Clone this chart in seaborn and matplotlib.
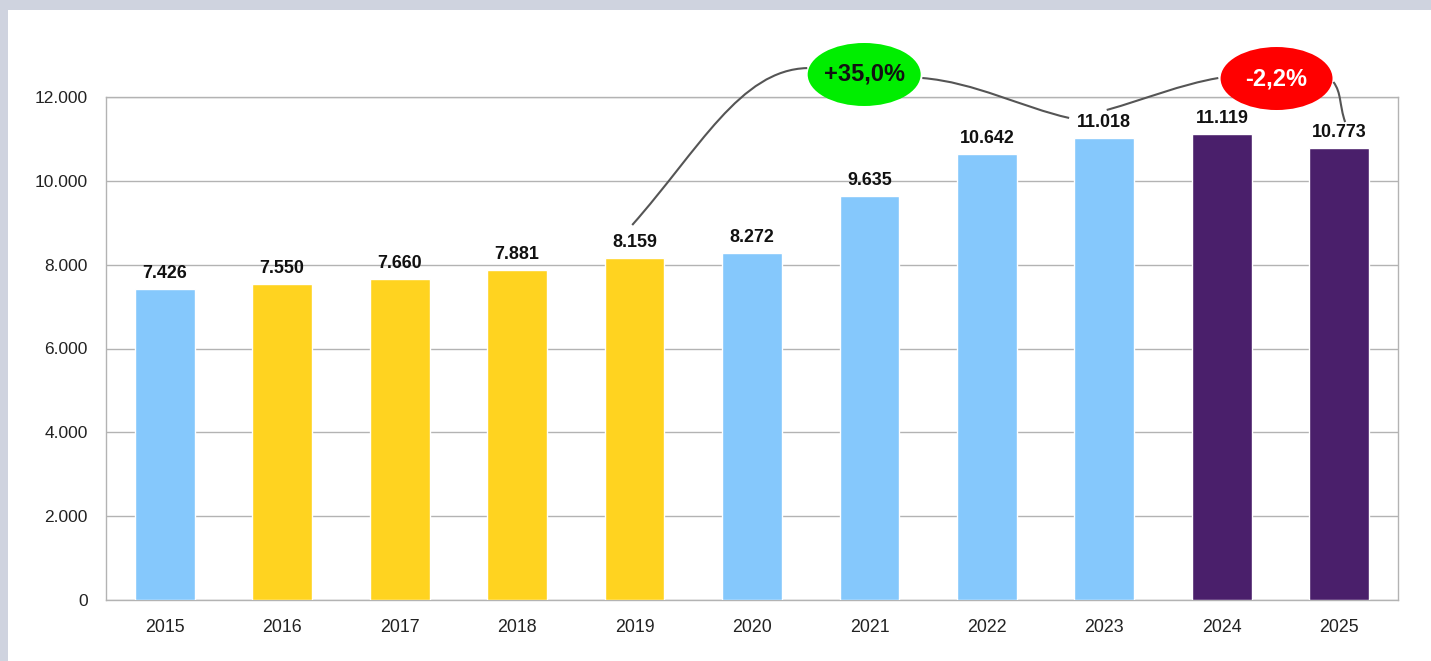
import matplotlib
matplotlib.use("Agg")
import matplotlib.pyplot as plt
import matplotlib.ticker as mticker
from matplotlib.patches import Ellipse, PathPatch, Rectangle
from matplotlib.path import Path
import seaborn as sns
import pandas as pd

# chart data
years = ["2015", "2016", "2017", "2018", "2019", "2020", "2021", "2022", "2023", "2024", "2025"]
values = [7426, 7550, 7660, 7881, 8159, 8272, 9635, 10642, 11018, 11119, 10773]
groups = ["blue", "yellow", "yellow", "yellow", "yellow", "blue", "blue", "blue", "blue", "purple", "purple"]
palette = {"blue": "#85C8FC", "yellow": "#FFD320", "purple": "#4A1F6B"}
yticks = [0, 2000, 4000, 6000, 8000, 10000, 12000]
change_labels = ["+35,0%", "-2,2%"]

sns.set_style("white")
plt.rcParams["font.family"] = ["Liberation Sans", "DejaVu Sans"]

df = pd.DataFrame({"Year": years, "Value": values, "Group": groups})

fig = plt.figure(figsize=(14.31, 6.61), dpi=100)
ax = fig.add_axes([106 / 1431, 61 / 661, 1292 / 1431, 503 / 661])

# grey frame on the left and top of the image
fig.patches.append(Rectangle((0, 0), 8 / 1431, 1, transform=fig.transFigure,
                             facecolor="#CFD3DF", edgecolor="none", zorder=0))
fig.patches.append(Rectangle((0, 1 - 10 / 661), 1, 10 / 661, transform=fig.transFigure,
                             facecolor="#CFD3DF", edgecolor="none", zorder=0))

sns.barplot(data=df, x="Year", y="Value", hue="Group", palette=palette,
            dodge=False, width=0.51, legend=False, ax=ax, saturation=1, zorder=3)

fmt = lambda v: f"{v:,.0f}".replace(",", ".")
for cont in ax.containers:
    ax.bar_label(cont, labels=[fmt(b.get_height()) for b in cont], padding=5,
                 fontsize=12.9, fontweight="bold", color="#111111")

ax.set_xlim(-0.5, len(years) - 0.5)
ax.set_ylim(0, 12000)
ax.set_yticks(yticks)
ax.yaxis.set_major_formatter(mticker.FuncFormatter(lambda v, p: fmt(v)))
ax.grid(axis="y", color="#B3B3B3", linewidth=1, zorder=0)
ax.set_axisbelow(True)
for s in ax.spines.values():
    s.set_color("#B3B3B3")
    s.set_linewidth(1)

ax.set_xlabel("")
ax.set_ylabel("")
ax.tick_params(axis="x", which="major", length=0, pad=14, labelsize=12.8, labelcolor="#222222")
ax.set_xticks([i - 0.5 for i in range(len(years) + 1)], minor=True)
ax.tick_params(axis="x", which="minor", length=8, color="#B3B3B3", width=1)
ax.tick_params(axis="y", length=8, color="#B3B3B3", width=1, pad=5, labelsize=12.5, labelcolor="#222222")


def curve(pts, codes):
    patch = PathPatch(Path(pts, codes), facecolor="none", edgecolor="#555555",
                      linewidth=1.5, clip_on=False, zorder=5)
    ax.add_patch(patch)


C = [Path.MOVETO, Path.CURVE4, Path.CURVE4, Path.CURVE4]
# connector lines for the change callouts
curve([(3.98, 8946), (4.55, 10750), (4.9, 12650), (5.47, 12690)], C)
curve([(6.45, 12453), (6.9, 12350), (7.3, 11750), (7.70, 11500)], C)
curve([(8.02, 11690), (8.35, 11950), (8.65, 12300), (8.97, 12453)], C)
curve([(9.95, 12358), (10.02, 12100), (10.0, 11800), (10.05, 11403)], C)

ax.add_patch(Ellipse((5.955, 12537), 0.962, 1503, facecolor="#00EE00",
                     edgecolor="none", clip_on=False, zorder=6))
ax.text(5.955, 12537, change_labels[0], ha="center", va="center", fontsize=17,
        fontweight="bold", color="#111111", zorder=7)
ax.add_patch(Ellipse((9.466, 12441), 0.953, 1503, facecolor="#FF0000",
                     edgecolor="none", clip_on=False, zorder=6))
ax.text(9.466, 12441, change_labels[1], ha="center", va="center", fontsize=17,
        fontweight="bold", color="white", zorder=7)

fig.savefig("out.png", dpi=100)
plt.close(fig)
